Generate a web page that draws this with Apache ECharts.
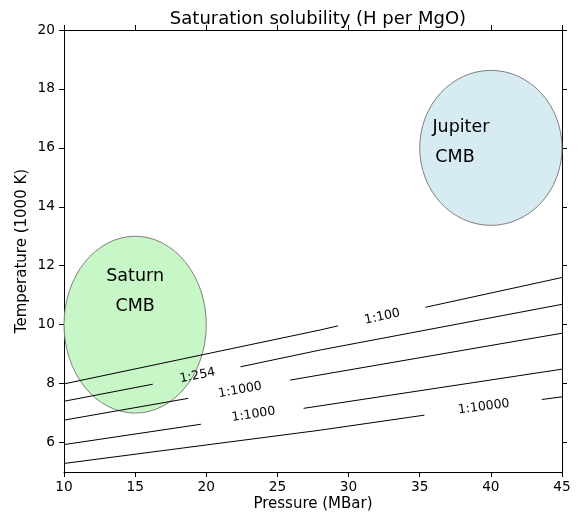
<!DOCTYPE html>
<html>
<head>
<meta charset="utf-8">
<script src="https://cdn.jsdelivr.net/npm/echarts@6/dist/echarts.min.js"></script>
<style>
html,body{margin:0;padding:0;background:#fff;}
#chart{width:579px;height:513px;}
</style>
</head>
<body>
<div id="chart"></div>
<script>
// ---- data ----
const xTicks = [10, 15, 20, 25, 30, 35, 40, 45];
const yTicks = [6, 8, 10, 12, 14, 16, 18, 20];

// contour lines (null = gap where the label sits)
const line100   = [[10, 7.99], [28.01, 9.82], [29.26, 9.96], null, [35.40, 10.59], [45, 11.60]];
const line254   = [[10, 7.40], [16.24, 7.98], null, [22.40, 8.57], [28.01, 9.14], [45, 10.69]];
const line1000a = [[10, 6.76], [18.74, 7.50], null, [25.90, 8.12], [45, 9.71]];
const line1000b = [[10, 5.93], [19.62, 6.62], null, [26.84, 7.16], [45, 8.49]];
const line10000 = [[10, 5.29], [28.01, 6.42], [35.33, 6.93], null, [43.58, 7.46], [45, 7.55]];
const contourLines  = [line100, line254, line1000a, line1000b, line10000];
const contourLabels = ['1:100', '1:254', '1:1000', '1:1000', '1:10000'];
const contourLabelAt = [[32.37, 10.27], [19.38, 8.27], [22.38, 7.78], [23.32, 6.95], [39.5, 7.21]];

// planet CMB regions
const regionNames   = ['Saturn', 'Jupiter'];
const regionCenters = [[15, 10], [40, 16]];
const regionRadii   = [[5, 3], [5, 2.63]];
const regionTexts   = [['Saturn', 15, 11.62], ['CMB', 15, 10.61], ['Jupiter', 35.89, 16.69], ['CMB', 36.1, 15.68]];

// ---- styles ----
const FONT = 'DejaVu Sans';
const regionFill = {Saturn: '#c7f6c7', Jupiter: '#d6ebf2'};
const regionTextAlign = ['center', 'center', 'left', 'left'];

const chart = echarts.init(document.getElementById('chart'), null, {renderer: 'canvas'});

function axisCommon() {
  return {
    axisLine: {show: true, onZero: false, lineStyle: {color: '#000', width: 1}},
    axisTick: {show: true, inside: false, length: 5, lineStyle: {color: '#000', width: 1}},
    splitLine: {show: false}
  };
}

const series = [];

// ellipses
series.push({
  type: 'custom',
  silent: true,
  z: 1,
  data: regionNames.map((n, i) => [regionCenters[i][0], regionCenters[i][1], regionRadii[i][0], regionRadii[i][1], i]),
  renderItem: function (params, api) {
    const c = api.coord([api.value(0), api.value(1)]);
    const s = api.size([api.value(2), api.value(3)]);
    const rx = s[0], ry = s[1];
    const name = regionNames[api.value(4)];
    const d = 'M' + (c[0] - rx) + ' ' + c[1] +
      ' A' + rx + ' ' + ry + ' 0 1 0 ' + (c[0] + rx) + ' ' + c[1] +
      ' A' + rx + ' ' + ry + ' 0 1 0 ' + (c[0] - rx) + ' ' + c[1] + ' Z';
    return {
      type: 'path',
      shape: {pathData: d},
      style: {fill: regionFill[name], stroke: '#7f7f7f', lineWidth: 1}
    };
  }
});

// contour segments
contourLines.forEach(function (pts) {
  let seg = [];
  const segs = [];
  pts.forEach(function (p) {
    if (p === null) { if (seg.length) segs.push(seg); seg = []; }
    else seg.push(p);
  });
  if (seg.length) segs.push(seg);
  segs.forEach(function (sg) {
    series.push({
      type: 'line', data: sg, showSymbol: false, symbol: 'none', silent: true, z: 3,
      lineStyle: {color: '#000', width: 1}, animation: false
    });
  });
});

// contour labels (rotation follows the line across the gap)
series.push({
  type: 'custom',
  silent: true,
  z: 4,
  data: contourLabels.map((t, i) => [contourLabelAt[i][0], contourLabelAt[i][1], i]),
  renderItem: function (params, api) {
    const i = api.value(2);
    const pts = contourLines[i];
    const gi = pts.indexOf(null);
    const a = api.coord(pts[gi - 1]);
    const b = api.coord(pts[gi + 1]);
    const rot = Math.atan2(-(b[1] - a[1]), b[0] - a[0]);
    const c = api.coord([api.value(0), api.value(1)]);
    return {
      type: 'text',
      x: c[0], y: c[1], rotation: rot,
      style: {text: contourLabels[i], fill: '#000', font: '12.5px "' + FONT + '"', align: 'center', verticalAlign: 'middle'}
    };
  }
});

// region texts
series.push({
  type: 'custom',
  silent: true,
  z: 5,
  data: regionTexts.map((t, i) => [t[1], t[2], i]),
  renderItem: function (params, api) {
    const i = api.value(2);
    const c = api.coord([api.value(0), api.value(1)]);
    return {
      type: 'text',
      x: c[0], y: c[1],
      style: {text: regionTexts[i][0], fill: '#000', font: '17.5px "' + FONT + '"', align: regionTextAlign[i], verticalAlign: 'middle'}
    };
  }
});

const option = {
  animation: false,
  backgroundColor: '#fff',
  title: {
    text: 'Saturation solubility (H per MgO)',
    left: 313, top: 5, textAlign: 'center',
    textStyle: {fontFamily: FONT, fontSize: 18, fontWeight: 'normal', color: '#000'}
  },
  grid: {left: 64, right: 17, top: 30, bottom: 41, outerBoundsMode: 'none', containLabel: false},
  xAxis: [
    Object.assign(axisCommon(), {
      type: 'value', min: 10, max: 45, interval: 5, position: 'bottom',
      axisLabel: {color: '#000', fontFamily: FONT, fontSize: 13.7, margin: 8},
      name: 'Pressure (MBar)', nameLocation: 'middle', nameGap: 25, nameMoveOverlap: false,
      nameTextStyle: {color: '#000', fontFamily: FONT, fontSize: 15}
    }),
    Object.assign(axisCommon(), {
      type: 'value', min: 10, max: 45, interval: 5, position: 'top',
      axisLabel: {show: false}
    })
  ],
  yAxis: [
    Object.assign(axisCommon(), {
      type: 'value', min: 5, max: 20, position: 'left',
      axisTick: {show: true, inside: false, length: 5, lineStyle: {color: '#000', width: 1}, customValues: yTicks},
      axisLabel: {color: '#000', fontFamily: FONT, fontSize: 13.7, margin: 9, customValues: yTicks},
      name: 'Temperature (1000 K)', nameLocation: 'middle', nameGap: 34, nameMoveOverlap: false,
      nameTextStyle: {color: '#000', fontFamily: FONT, fontSize: 15}
    }),
    Object.assign(axisCommon(), {
      type: 'value', min: 5, max: 20, position: 'right',
      axisTick: {show: true, inside: false, length: 5, lineStyle: {color: '#000', width: 1}, customValues: yTicks},
      axisLabel: {show: false, customValues: yTicks}
    })
  ],
  series: series
};

chart.setOption(option);
</script>
</body>
</html>
